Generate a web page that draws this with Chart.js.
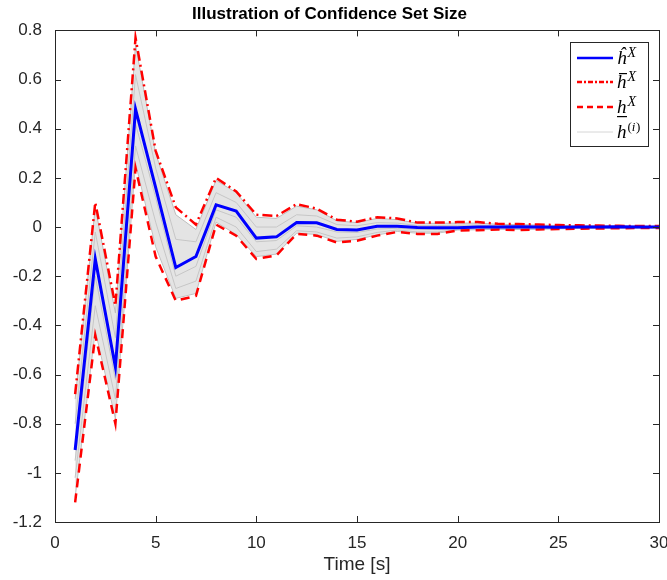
<!DOCTYPE html>
<html>
<head>
<meta charset="utf-8">
<script src="https://cdn.jsdelivr.net/npm/chart.js@4.4.0/dist/chart.umd.min.js"></script>
<style>
  html, body { margin: 0; padding: 0; background: #fff; }
  #wrap { width: 667px; height: 580px; }
</style>
</head>
<body>
<div id="wrap"><canvas id="confChart" width="667" height="580"></canvas></div>
<script>
// time steps (s)
const timeSteps = [1,2,3,4,5,6,7,8,9,10,11,12,13,14,15,16,17,18,19,20,21,22,23,24,25,26,27,28,29,30];

// estimate h-hat
const hHat = [-0.907,-0.13,-0.57,0.48,0.16,-0.165,-0.12,0.09,0.065,-0.045,-0.04,0.018,0.017,-0.01,-0.012,
  0.003,0.003,-0.002,-0.003,-0.003,0.0,0.0,0.001,0.0,-0.001,0.0,0.0,0.001,0.0,0.0];

// upper bound (h-bar)
const hUpper = [-0.68,0.10,-0.32,0.77,0.31,0.08,0.01,0.20,0.145,0.05,0.045,0.093,0.075,0.03,0.022,
  0.04,0.035,0.018,0.018,0.02,0.02,0.013,0.012,0.01,0.008,0.007,0.006,0.005,0.004,0.004];

// lower bound (h-underline)
const hLower = [-1.12,-0.44,-0.80,0.24,-0.12,-0.30,-0.28,0.01,-0.035,-0.13,-0.115,-0.028,-0.035,-0.063,-0.056,
  -0.035,-0.02,-0.028,-0.028,-0.014,-0.013,-0.01,-0.012,-0.01,-0.008,-0.007,-0.006,-0.005,-0.004,-0.004];

// a few of the sampled h^(i) curves
const hSample1 = [-0.70,0.08,-0.35,0.74,0.30,0.05,-0.01,0.19,0.14,0.04,0.035,0.085,0.07,0.025,0.018,
  0.035,0.03,0.015,0.015,0.016,0.016,0.011,0.01,0.008,0.006,0.005,0.005,0.004,0.003,0.003];
const hSample2 = [-0.80,-0.02,-0.45,0.62,0.24,-0.05,-0.06,0.14,0.10,0.0,0.0,0.05,0.045,0.01,0.005,
  0.018,0.016,0.006,0.006,0.007,0.008,0.005,0.005,0.004,0.003,0.003,0.002,0.002,0.002,0.001];
const hSample3 = [-0.95,-0.20,-0.62,0.42,0.12,-0.20,-0.16,0.07,0.04,-0.06,-0.055,0.005,0.0,-0.02,-0.022,
  -0.008,-0.005,-0.01,-0.01,-0.008,-0.005,-0.004,-0.004,-0.003,-0.003,-0.002,-0.002,-0.001,-0.001,-0.001];
const hSample4 = [-1.02,-0.32,-0.70,0.33,0.02,-0.25,-0.22,0.04,0.0,-0.10,-0.09,-0.015,-0.02,-0.045,-0.04,
  -0.022,-0.012,-0.02,-0.02,-0.01,-0.009,-0.007,-0.008,-0.007,-0.006,-0.005,-0.004,-0.004,-0.003,-0.003];
const hSample5 = [-1.10,-0.42,-0.78,0.26,-0.08,-0.29,-0.27,0.02,-0.03,-0.12,-0.11,-0.025,-0.03,-0.058,-0.05,
  -0.032,-0.018,-0.025,-0.025,-0.012,-0.011,-0.009,-0.01,-0.009,-0.007,-0.006,-0.005,-0.004,-0.004,-0.003];

const xTicks = [0,5,10,15,20,25,30];

const axisColor = '#262626';
const dashDot = [10,4,2,4];
const dashed = [9,6];

function toPoints(ys) {
  return timeSteps.map((t, i) => ({ x: t, y: ys[i] }));
}

function greySet(ys, fillTo) {
  return {
    data: toPoints(ys),
    borderColor: '#bdbdbd',
    borderWidth: 1,
    pointRadius: 0,
    tension: 0,
    fill: fillTo === undefined ? false : { target: fillTo },
    backgroundColor: 'rgba(205,205,205,0.55)'
  };
}

// box + inward ticks, MATLAB style
const boxPlugin = {
  id: 'boxTicks',
  afterDatasetsDraw(chart) {
    const { ctx, chartArea: a, scales } = chart;
    ctx.save();
    ctx.strokeStyle = axisColor;
    ctx.lineWidth = 1;
    ctx.strokeRect(Math.round(a.left) + 0.5, Math.round(a.top) + 0.5,
      Math.round(a.right - a.left), Math.round(a.bottom - a.top));
    const len = 6;
    ctx.beginPath();
    scales.x.ticks.forEach(tk => {
      const px = Math.round(scales.x.getPixelForValue(tk.value)) + 0.5;
      ctx.moveTo(px, a.bottom); ctx.lineTo(px, a.bottom - len);
      ctx.moveTo(px, a.top); ctx.lineTo(px, a.top + len);
    });
    scales.y.ticks.forEach(tk => {
      const py = Math.round(scales.y.getPixelForValue(tk.value)) + 0.5;
      ctx.moveTo(a.left, py); ctx.lineTo(a.left + len, py);
      ctx.moveTo(a.right, py); ctx.lineTo(a.right - len, py);
    });
    ctx.stroke();
    ctx.restore();
  },
  afterDraw(chart) {
    // legend
    const ctx = chart.ctx;
    const bx = 570, by = 42, bw = 78, bh = 104;
    ctx.save();
    ctx.fillStyle = '#fff';
    ctx.fillRect(bx, by, bw, bh);
    ctx.strokeStyle = axisColor;
    ctx.lineWidth = 1;
    ctx.strokeRect(bx + 0.5, by + 0.5, bw, bh);

    const rows = [
      { y: 58, color: '#0000ff', width: 2.5, dash: [], base: 'ĥ', sup: 'X' },
      { y: 82, color: '#ff0000', width: 2.5, dash: [5,2,2,2], base: 'h', sup: 'X', bar: 'over' },
      { y: 107, color: '#ff0000', width: 2.5, dash: [6,4], base: 'h', sup: 'X', bar: 'under' },
      { y: 132, color: '#d6d6d6', width: 1, dash: [], base: 'h', sup: '(i)' }
    ];
    rows.forEach(r => {
      ctx.beginPath();
      ctx.setLineDash(r.dash);
      ctx.strokeStyle = r.color;
      ctx.lineWidth = r.width;
      ctx.moveTo(577, r.y);
      ctx.lineTo(613, r.y);
      ctx.stroke();
      ctx.setLineDash([]);

      ctx.fillStyle = '#000';
      ctx.textBaseline = 'alphabetic';
      ctx.textAlign = 'left';
      ctx.font = 'italic 19px "Liberation Serif"';
      const tx = 617, base = r.y + 6;
      ctx.fillText(r.base, tx, base);
      const hw = ctx.measureText(r.base).width;
      if (r.bar === 'over') {
        ctx.fillRect(tx + 2, base - 15, 8, 1.2);
      } else if (r.bar === 'under') {
        ctx.fillRect(tx, base + 3, 10, 1.2);
      }
      if (r.sup === 'X') {
        ctx.font = 'italic 14px "Liberation Serif"';
        ctx.fillText('X', tx + hw + 1, base - 7);
      } else {
        ctx.font = '13px "Liberation Serif"';
        ctx.fillText('(', tx + hw + 1, base - 7);
        const w1 = ctx.measureText('(').width;
        ctx.font = 'italic 13px "Liberation Serif"';
        ctx.fillText('i', tx + hw + 1 + w1, base - 7);
        const w2 = ctx.measureText('i').width;
        ctx.font = '13px "Liberation Serif"';
        ctx.fillText(')', tx + hw + 1 + w1 + w2 + 0.5, base - 7);
      }
    });
    ctx.restore();
  }
};

function createChart() {
  const ctx = document.getElementById('confChart').getContext('2d');
  new Chart(ctx, {
    type: 'line',
    data: {
      datasets: [
        {
          data: toPoints(hHat),
          borderColor: '#0000ff',
          borderWidth: 3,
          pointRadius: 0,
          tension: 0,
          fill: false
        },
        {
          data: toPoints(hUpper),
          borderColor: '#ff0000',
          borderWidth: 2.5,
          borderDash: dashDot,
          pointRadius: 0,
          tension: 0,
          fill: false
        },
        {
          data: toPoints(hLower),
          borderColor: '#ff0000',
          borderWidth: 2.5,
          borderDash: dashed,
          pointRadius: 0,
          tension: 0,
          fill: false
        },
        greySet(hSample1, 7),
        greySet(hSample2),
        greySet(hSample3),
        greySet(hSample4),
        greySet(hSample5)
      ]
    },
    options: {
      responsive: false,
      animation: false,
      layout: { padding: { right: 8, left: 0, bottom: 0, top: 0 } },
      plugins: {
        legend: { display: false },
        tooltip: { enabled: false },
        title: {
          display: true,
          text: 'Illustration of Confidence Set Size',
          color: '#000',
          font: { family: '"Liberation Sans", Arial, sans-serif', size: 17, weight: 'bold' },
          padding: { top: 4, bottom: 6 }
        }
      },
      scales: {
        x: {
          type: 'linear',
          min: 0,
          max: 30,
          afterBuildTicks: scale => { scale.ticks = xTicks.map(v => ({ value: v })); },
          afterFit: scale => {
            scale.height = 58;
            scale.paddingRight = 0;
            scale.paddingLeft = 0;
          },
          grid: { display: false },
          border: { display: false },
          ticks: {
            color: axisColor,
            padding: 3,
            maxRotation: 0,
            font: { family: '"Liberation Sans", Arial, sans-serif', size: 17 }
          },
          title: {
            display: true,
            text: 'Time [s]',
            color: axisColor,
            padding: { top: 0, bottom: 4 },
            font: { family: '"Liberation Sans", Arial, sans-serif', size: 19 }
          }
        },
        y: {
          min: -1.2,
          max: 0.8,
          afterFit: scale => { scale.width = 55; },
          grid: { display: false },
          border: { display: false },
          ticks: {
            stepSize: 0.2,
            color: axisColor,
            padding: 5,
            font: { family: '"Liberation Sans", Arial, sans-serif', size: 17 },
            callback: function(value) {
              const v = Math.round(value * 10) / 10;
              return v === 0 ? '0' : String(v);
            }
          }
        }
      }
    },
    plugins: [boxPlugin]
  });
}

window.onload = createChart;
</script>
</body>
</html>
